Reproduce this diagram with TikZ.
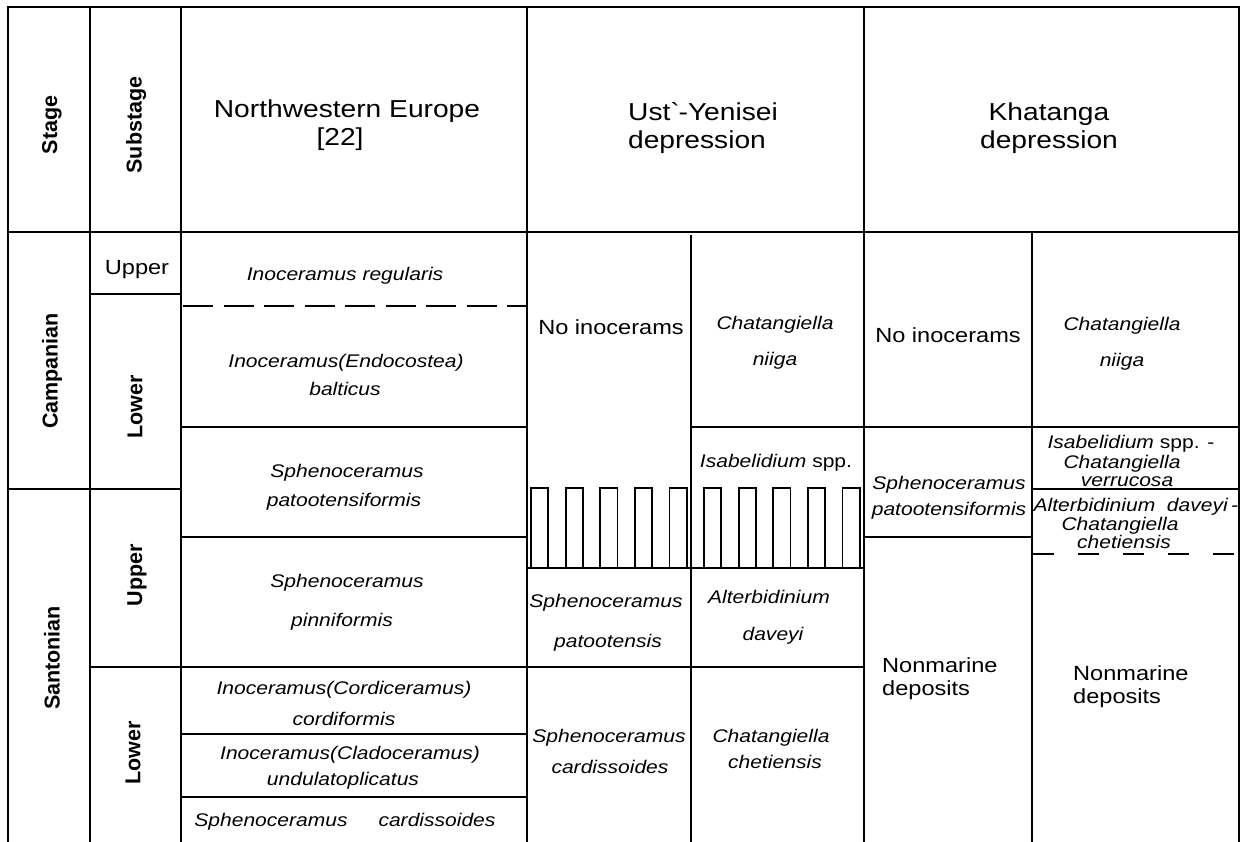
\documentclass[tikz,border=0pt]{standalone}
\usepackage{fontspec}
\setmainfont{Liberation Sans}[FakeStretch=1.15]
\newfontfamily\vlab{Liberation Sans}
\begin{document}
\begin{tikzpicture}[x=1pt,y=-1pt,
  ln/.style={line width=2.2pt, line cap=rect},
  hl/.style={line width=1.8pt},
  dl/.style={line width=2.2pt},
  hd/.style={font=\fontsize{24.5}{28}\selectfont, anchor=base, inner sep=0pt},
  tx/.style={font=\fontsize{20.5}{24}\selectfont, anchor=base, inner sep=0pt},
  it/.style={font=\fontsize{18.3}{22}\selectfont\itshape, anchor=base, inner sep=0pt},
  up/.style={font=\fontsize{18.3}{22}\selectfont, anchor=base, inner sep=0pt},
  rot/.style={font=\vlab\bfseries\fontsize{21.5}{24}\selectfont, rotate=90, inner sep=0pt, anchor=center},
]
\useasboundingbox (0,0) rectangle (1244,841);
\fill[white] (0,0) rectangle (1244,841);

% ---- frame and columns
\draw[ln] (8,7) -- (1239,7);
\draw[ln] (8,232) -- (1239,232);
\draw[ln] (8,7) -- (8,841);
\draw[ln] (90,7) -- (90,841);
\draw[ln] (181,7) -- (181,841);
\draw[ln] (527,7) -- (527,841);
\draw[ln] (691,236) -- (691,841);
\draw[ln] (864,7) -- (864,841);
\draw[ln] (1032,232) -- (1032,841);
\draw[ln] (1239,7) -- (1239,841);

% ---- stage / substage divisions
\draw[ln] (90,294) -- (181,294);
\draw[ln] (8,489) -- (181,489);
\draw[ln] (90,667) -- (527,667);

% ---- Northwestern Europe
\draw[dl, dash pattern=on 30pt off 10.5pt] (183,306) -- (527,306);
\draw[ln] (181,427) -- (527,427);
\draw[ln] (181,537) -- (527,537);
\draw[ln] (181,734) -- (527,734);
\draw[ln] (181,797) -- (527,797);

% ---- Ust'-Yenisei
\draw[ln] (691,427) -- (864,427);
\foreach \k in {0,...,9} {
  \draw[hl] ({531+2*\k*17.3},568) -- ++(0,-80) -- ++(17.3,0) -- ++(0,80);
}
\draw[ln] (527,568) -- (864,568);
\draw[ln] (527,667) -- (864,667);

% ---- Khatanga
\draw[ln] (864,427) -- (1239,427);
\draw[ln] (1032,489) -- (1239,489);
\draw[ln] (864,537) -- (1032,537);
\draw[dl, dash pattern=on 21pt off 24pt] (1033,554) -- (1239,554);

% ---- headers
\node[rot] (hStage) at (52,125) {Stage};
\node[rot] (hSub) at (136,125) {Substage};
\node[hd] (hNW1) at (347,117) {Northwestern Europe};
\node[hd] (hNW2) at (340,145) {[22]};
\node[hd] (hUY1) at (703,120) {Ust\textasciigrave-Yenisei};
\node[hd] (hUY2) at (697,148) {depression};
\node[hd] (hKh1) at (1049,120) {Khatanga};
\node[hd] (hKh2) at (1049,148) {depression};

% ---- stages
\node[rot] (sCamp) at (52,371) {Campanian};
\node[rot] (sSant) at (52,658) {Santonian};
\node[tx] (sUpC) at (137,274) {Upper};
\node[rot] (sLowC) at (135,407) {Lower};
\node[rot] (sUpS) at (137,575) {Upper};
\node[rot] (sLowS) at (133,753) {Lower};

% ---- NW Europe zones
\node[it] (n1) at (345,280) {Inoceramus regularis};
\node[it] (n2) at (346,367) {Inoceramus(Endocostea)};
\node[it] (n3) at (345,395) {balticus};
\node[it] (n4) at (347,477) {Sphenoceramus};
\node[it] (n5) at (344,506) {patootensiformis};
\node[it] (n6) at (347,587) {Sphenoceramus};
\node[it] (n7) at (342,626) {pinniformis};
\node[it] (n8) at (344,694) {Inoceramus(Cordiceramus)};
\node[it] (n9) at (344,725) {cordiformis};
\node[it] (n10) at (350,759) {Inoceramus(Cladoceramus)};
\node[it] (n11) at (343,785) {undulatoplicatus};
\node[it] (n12) at (271,826) {Sphenoceramus};
\node[it] (n13) at (437,826) {cardissoides};

% ---- Ust'-Yenisei zones
\node[tx] (u1) at (611,334) {No inocerams};
\node[it] (u2) at (775,329) {Chatangiella};
\node[it] (u3) at (775,365) {niiga};
\node[up] (u4) at (776,467) {\textit{Isabelidium} spp.};
\node[it] (u5) at (606,607) {Sphenoceramus};
\node[it] (u6) at (608,647) {patootensis};
\node[it] (u7) at (769,603) {Alterbidinium};
\node[it] (u8) at (773,640) {daveyi};
\node[it] (u9) at (609,742) {Sphenoceramus};
\node[it] (u10) at (610,773) {cardissoides};
\node[it] (u11) at (771,742) {Chatangiella};
\node[it] (u12) at (775,768) {chetiensis};

% ---- Khatanga zones
\node[tx] (k1) at (948,342) {No inocerams};
\node[it] (k2) at (1122,330) {Chatangiella};
\node[it] (k3) at (1122,366) {niiga};
\node[it] (k4) at (949,489) {Sphenoceramus};
\node[it] (k5) at (949,515) {patootensiformis};
\node[up] (k6) at (1131,448) {\textit{Isabelidium} spp. -};
\node[it] (k7) at (1122,468) {Chatangiella};
\node[it] (k8) at (1127,486) {verrucosa};
\node[up] (k9) at (1136,511) {\textit{Alterbidinium\ \ daveyi}\,-};
\node[it] (k10) at (1120,530) {Chatangiella};
\node[it] (k11) at (1124,548) {chetiensis};
\node[tx, anchor=base west] (k12) at (882,672) {Nonmarine};
\node[tx, anchor=base west] (k13) at (882,695) {deposits};
\node[tx, anchor=base west] (k14) at (1073,680) {Nonmarine};
\node[tx, anchor=base west] (k15) at (1073,703) {deposits};
\end{tikzpicture}
\end{document}
